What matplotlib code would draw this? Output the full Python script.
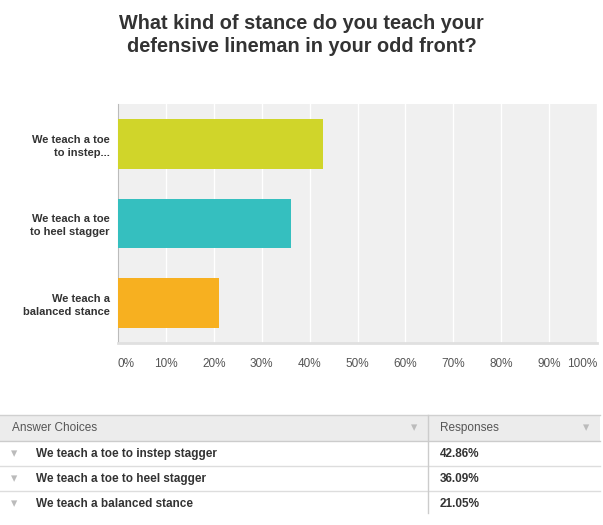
import numpy as np
import matplotlib.pyplot as plt
from matplotlib.patches import Rectangle

plt.rcParams['font.family'] = ['Liberation Sans', 'DejaVu Sans']

# dados do gráfico
categories = ['We teach a toe\nto instep...', 'We teach a toe\nto heel stagger', 'We teach a\nbalanced stance']
values = [42.86, 36.09, 21.05]
colors = ['#d0d52a', '#35bfbf', '#f7b020']
tick_values = np.arange(0, 101, 10)
tick_labels = [f'{t}%' for t in tick_values]

# tabela
answer_choices = ['We teach a toe to instep stagger', 'We teach a toe to heel stagger', 'We teach a balanced stance']
responses = ['42.86%', '36.09%', '21.05%']

W, H = 603, 525
fig = plt.figure(figsize=(W / 100, H / 100), dpi=100)
fig.patch.set_facecolor('white')

# eixo de fundo em pixels para a tabela
bg = fig.add_axes([0, 0, 1, 1])
bg.set_xlim(0, W)
bg.set_ylim(H, 0)
bg.axis('off')

# gráfico de barras
left, top, right, bottom = 118, 104, 597, 343
ax = fig.add_axes([left / W, 1 - bottom / H, (right - left) / W, (bottom - top) / H])
ax.set_facecolor('#f0f0f0')
y = np.arange(len(categories))
ax.barh(y, values, height=0.625, color=colors, zorder=3)
ax.set_ylim(len(categories) - 0.5, -0.5)
ax.set_xlim(0, 100)
ax.set_xticks(tick_values)
ax.set_xticklabels(tick_labels, fontsize=8.5, color='#555555')
ax.set_yticks(y)
ax.set_yticklabels(categories, fontsize=8, fontweight='bold', color='#333333',
                   linespacing=1.35)
ax.tick_params(axis='both', length=0)
ax.tick_params(axis='x', pad=11)
ax.tick_params(axis='y', pad=6)
xl = ax.get_xticklabels()
xl[0].set_horizontalalignment('left')
xl[-1].set_horizontalalignment('right')
ax.grid(axis='x', color='white', linewidth=1, zorder=1)
for s in ['top', 'right']:
    ax.spines[s].set_visible(False)
ax.spines['left'].set_color('#bbbbbb')
ax.spines['bottom'].set_color('#e0e0e0')
ax.spines['bottom'].set_linewidth(2)

# título
fig.text(0.5, 1 - 14 / H, 'What kind of stance do you teach your\ndefensive lineman in your odd front?',
         ha='center', va='top', fontsize=14.3, fontweight='bold', color='#333333',
         linespacing=1.3)

# tabela
bg.add_patch(Rectangle((0, 415), 600, 26, facecolor='#ececec', edgecolor='none'))
bg.plot([0, 600], [415, 415], color='#d0d0d0', lw=1)
bg.plot([0, 600], [441, 441], color='#cccccc', lw=1)
bg.plot([0, 600], [466, 466], color='#dddddd', lw=1)
bg.plot([0, 600], [491, 491], color='#dddddd', lw=1)
bg.plot([428, 428], [415, 513], color='#cccccc', lw=1)
bg.text(12, 428, 'Answer Choices', fontsize=8.5, color='#555555', va='center')
bg.text(440, 428, 'Responses', fontsize=8.5, color='#555555', va='center')
bg.text(414, 428, '▾', fontsize=9, color='#bbbbbb', va='center', ha='center', family='DejaVu Sans')
bg.text(586, 428, '▾', fontsize=9, color='#bbbbbb', va='center', ha='center', family='DejaVu Sans')
row_y = [454, 479, 504]
for ry, ch, r in zip(row_y, answer_choices, responses):
    bg.text(14, ry, '▾', fontsize=9, color='#bbbbbb', va='center', ha='center', family='DejaVu Sans')
    bg.text(36, ry, ch, fontsize=8.5, fontweight='bold', color='#333333', va='center')
    bg.text(440, ry, r, fontsize=8.5, fontweight='bold', color='#333333', va='center')

fig.savefig('out.png', dpi=100)
